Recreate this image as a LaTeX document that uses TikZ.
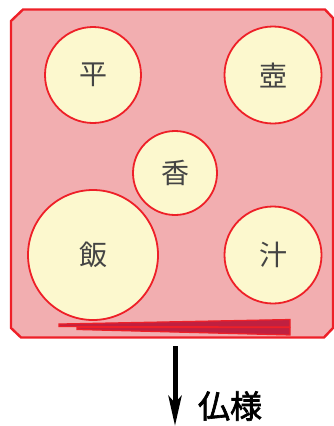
\documentclass[tikz,border=0pt]{standalone}
\usepackage{fontspec}
\newfontfamily\cjk{Noto Sans CJK JP}
\newfontfamily\cjkbold{Noto Sans CJK JP}[FakeBold=2]
\usetikzlibrary{arrows.meta}
\definecolor{trayfill}{HTML}{F2AEB0}
\definecolor{trayline}{HTML}{EE2028}
\definecolor{dishfill}{HTML}{FCF8CE}
\definecolor{chopdark}{HTML}{C02040}
\definecolor{chartext}{HTML}{444444}
\tikzset{
  dish/.style={circle, draw=trayline, line width=1.8pt, fill=dishfill, inner sep=0pt,
    minimum size=#1, font=\cjk\fontsize{28}{28}\selectfont, text=chartext},
  chop/.style={fill=chopdark, draw=trayline, line width=1.2pt, line join=miter},
  downarrow/.style={line width=5pt, -{Stealth[length=30pt,width=13pt,inset=7pt]}}
}
\begin{document}
\begin{tikzpicture}[x=1pt,y=-1pt]
\useasboundingbox (0,0) rectangle (333,426);
% tray
\draw[fill=trayfill, draw=trayline, line width=2.4pt]
  (11,21) -- (23,9.5) -- (325,9.5) -- (333,18) -- (333,328) -- (324,337.5)
  -- (21,337.5) -- (11,328) -- cycle;
% dishes
\node[dish=96pt] (hira) at (93,75) {平};
\node[dish=97pt] (tsubo) at (273,75) {壺};
\node[dish=84pt] (kou) at (175,173) {香};
\node[dish=130pt] (han) at (93,255) {飯};
\node[dish=97pt] (shiru) at (273,255) {汁};
% chopsticks
\draw[chop] (59,324) -- (290,319.5) -- (290,327) -- (59,326.5) -- cycle;
\draw[chop] (77,327.5) -- (290,327.5) -- (290,335) -- (77,329.5) -- cycle;
% arrow
\coordinate (from) at (175,346);
\coordinate (to) at (175,426);
\draw[downarrow] (from) -- (to);
\node[font=\cjkbold\fontsize{32}{32}\selectfont, inner sep=0pt] (hotoke) at (230,406) {仏様};
\end{tikzpicture}
\end{document}
